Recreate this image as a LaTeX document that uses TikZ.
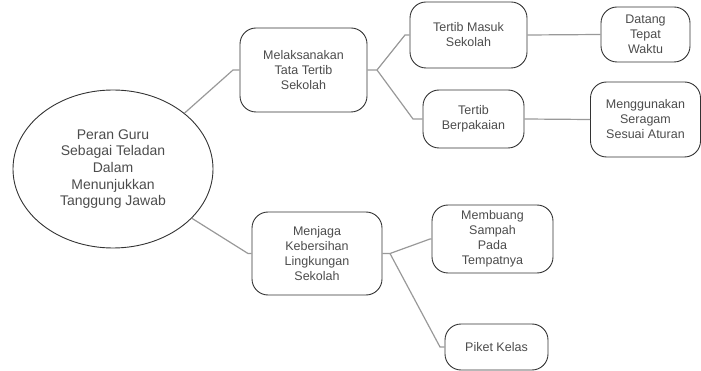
\documentclass[tikz,border=0pt]{standalone}
\usepackage{fontspec}
\setmainfont{Liberation Sans}
\usetikzlibrary{shapes.geometric}

\begin{document}
\begin{tikzpicture}[x=1pt,y=-1pt,
    box/.style={draw=black!80,line width=0.9pt,rounded corners=16pt,align=center,
        text=black!70,font=\fontsize{12.5}{15}\selectfont,inner sep=2pt},
    link/.style={draw=black!40,line width=1.2pt}]
    \useasboundingbox (0,0) rectangle (701,371);

    % main idea
    \node[ellipse,draw=black!80,line width=0.9pt,minimum width=200pt,minimum height=158pt,
        align=center,text=black!70,font=\fontsize{14}{16.6}\selectfont,inner sep=0pt]
        (guru) at (113,169) {Peran Guru\\Sebagai Teladan\\Dalam\\Menunjukkan\\Tanggung Jawab};

    % branches
    \node[box,minimum width=127pt,minimum height=84pt] (tata) at (303.5,70) {Melaksanakan\\Tata Tertib\\Sekolah};
    \node[box,minimum width=130pt,minimum height=83pt] (bersih) at (317,253.5) {Menjaga\\Kebersihan\\Lingkungan\\Sekolah};

    \node[box,minimum width=117pt,minimum height=66pt] (masuk) at (468.5,35) {Tertib Masuk\\Sekolah};
    \node[box,minimum width=101pt,minimum height=58pt] (pakai) at (473.5,119) {Tertib\\Berpakaian};
    \node[box,minimum width=89pt,minimum height=55pt] (datang) at (645.5,34.5) {Datang\\Tepat\\Waktu};
    \node[box,minimum width=110pt,minimum height=75pt] (seragam) at (645.5,119.5) {Menggunakan\\Seragam\\Sesuai Aturan};
    \node[box,minimum width=121pt,minimum height=68pt] (buang) at (492.5,239) {Membuang\\Sampah\\Pada\\Tempatnya};
    \node[box,minimum width=103pt,minimum height=46pt] (piket) at (496.5,347) {Piket Kelas};

    % connectors
    \coordinate (jtata) at (233,70);
    \coordinate (jbersih) at (248,253.5);
    \coordinate (ktata) at (377,70);
    \coordinate (kbersih) at (390,253.5);

    \draw[link] (guru.38) -- (jtata) -- (tata.west);
    \draw[link] (guru.-32) -- (jbersih) -- (bersih.west);
    \draw[link] (tata.east) -- (ktata) -- (405,35) -- (masuk.west);
    \draw[link] (ktata) -- (413,119) -- (pakai.west);
    \draw[link] (bersih.east) -- (kbersih) -- (430,239) -- (buang.west);
    \draw[link] (kbersih) -- (440,347) -- (piket.west);
    \foreach \from/\to in {masuk/datang, pakai/seragam} {
        \draw[link] (\from.east) -- (\to.west);
    }
\end{tikzpicture}
\end{document}
